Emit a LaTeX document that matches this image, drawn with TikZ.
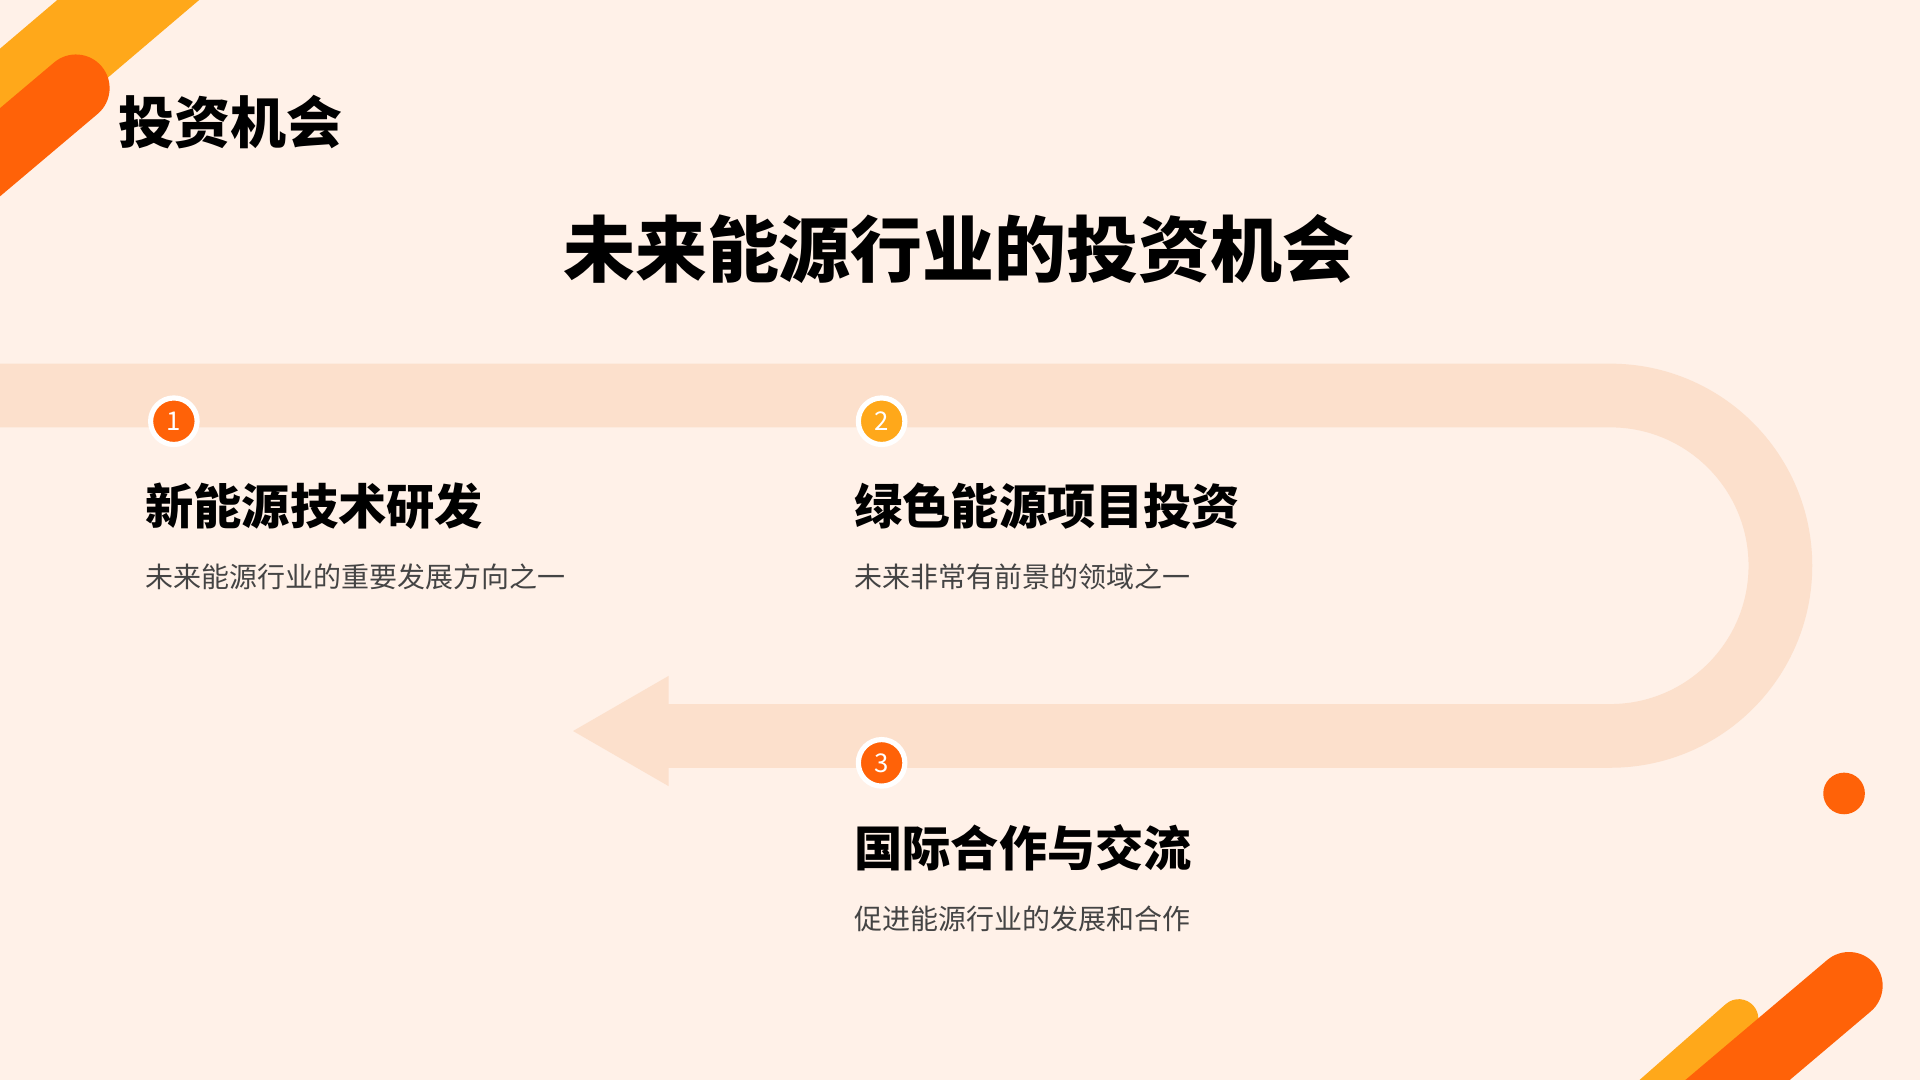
\documentclass[tikz,border=0pt]{standalone}
\usepackage{fontspec}
\setmainfont{Noto Sans CJK SC}
\definecolor{bg}{HTML}{FFF1E8}
\definecolor{band}{HTML}{FCE0CC}
\definecolor{org}{HTML}{FF6208}
\definecolor{yel}{HTML}{FFA81A}
\definecolor{txt}{HTML}{444444}
\tikzset{num/.style={circle,draw=white,line width=1.2pt,minimum size=0.38cm,inner sep=0pt,text=white,font=\fontsize{6}{7}\selectfont},
head/.style={anchor=west,font=\fontsize{11.2}{13}\selectfont\bfseries,inner sep=0pt},
sub/.style={anchor=west,font=\fontsize{6.5}{8}\selectfont,text=txt,inner sep=0pt}}
\begin{document}
\begin{tikzpicture}[x=0.01cm,y=-0.01cm]
\fill[bg] (0,0) rectangle (1568,882);
\useasboundingbox (0,0) rectangle (1568,882);
\begin{scope}
\clip (0,0) rectangle (1568,882);
\draw[yel,line width=0.75cm] (140,-30) -- (-60,140);
\draw[org,line width=0.55cm,line cap=round] (62,72) -- (-60,175);
\draw[yel,line width=0.32cm,line cap=round] (1420,832) -- (1320,920);
\draw[org,line width=0.55cm,line cap=round] (1510,805) -- (1380,915);
\end{scope}
\draw[band,line width=0.52cm] (0,323) -- (1315,323) arc[start angle=-90,end angle=90,radius=139] -- (540,601);
\fill[band] (546,552) -- (468,597) -- (546,642) -- cycle;
\node[num,fill=org] (n1) at (142,344) {1};
\node[num,fill=yel] (n2) at (720,344) {2};
\node[num,fill=org] (n3) at (720,623) {3};
\fill[org] (1506,648) circle (17);
\node[anchor=west,font=\fontsize{13}{15}\selectfont\bfseries,inner sep=0pt] (t0) at (96,100) {投资机会};
\node[font=\fontsize{16.7}{19}\selectfont\bfseries,inner sep=0pt] (t) at (783,203) {未来能源行业的投资机会};
\node[head] (h1) at (118,413) {新能源技术研发};
\node[sub] (s1) at (118,471) {未来能源行业的重要发展方向之一};
\node[head] (h2) at (697,413) {绿色能源项目投资};
\node[sub] (s2) at (697,471) {未来非常有前景的领域之一};
\node[head] (h3) at (697,692) {国际合作与交流};
\node[sub] (s3) at (697,750) {促进能源行业的发展和合作};
\end{tikzpicture}
\end{document}
